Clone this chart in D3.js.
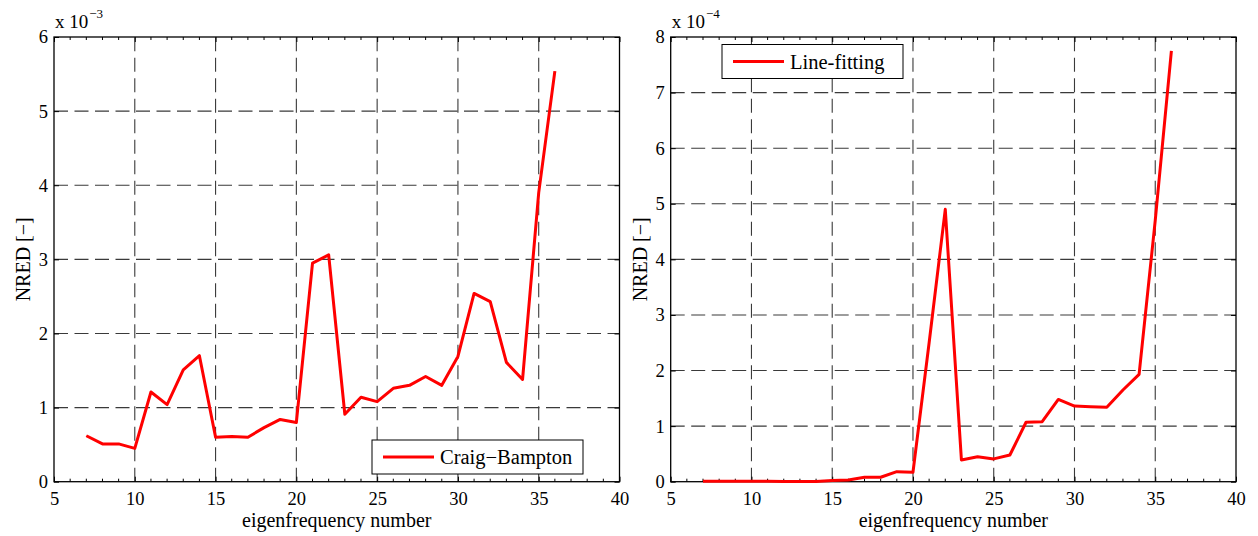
<html>
<script src='https://d3js.org/d3.v7.min.js'></script>
<style>
    body { margin: 0; background: #fff; }
    text { font-family: 'Liberation Serif', 'Times New Roman', serif; fill: #000; }
</style>

<body>
    <svg width=1258 height=536></svg>
    <script>
        // eigenfrequency numbers
        let modes = d3.range(7, 37);
        // Craig-Bampton NRED, x 1e-3
        let craigBampton = [0.62, 0.51, 0.51, 0.45, 1.21, 1.04, 1.51, 1.70, 0.60, 0.61,
            0.60, 0.73, 0.84, 0.80, 2.95, 3.06, 0.91, 1.14, 1.08, 1.26,
            1.30, 1.42, 1.30, 1.69, 2.54, 2.43, 1.61, 1.38, 3.9, 5.54];
        // Line-fitting NRED, x 1e-4
        let lineFitting = [0.01, 0.01, 0.01, 0.01, 0.01, 0.005, 0.005, 0.005, 0.02, 0.03,
            0.08, 0.08, 0.18, 0.17, 2.5, 4.9, 0.39, 0.45, 0.41, 0.48,
            1.07, 1.08, 1.48, 1.36, 1.35, 1.34, 1.65, 1.93, 4.7, 7.75];
        let xTicks = [5, 10, 15, 20, 25, 30, 35, 40];

        let svg = d3.select('svg');

        function panel(opt) {
            let x = d3.scaleLinear().domain([5, 40]).range([opt.left, opt.right]);
            let y = d3.scaleLinear().domain([0, opt.ymax]).range([481.7, 37]);
            let g = svg.append('g');
            let yTicks = d3.range(0, opt.ymax + 1);

            // grid (dashed)
            g.append('g').selectAll('line').data(xTicks.slice(1, -1)).enter().append('line')
                .attr('x1', d => x(d)).attr('x2', d => x(d))
                .attr('y1', y(0)).attr('y2', y(opt.ymax))
                .attr('stroke', '#3a3a3a').attr('stroke-width', 1.1)
                .attr('stroke-dasharray', '14,6.5');
            g.append('g').selectAll('line').data(yTicks.slice(1, -1)).enter().append('line')
                .attr('x1', x(5)).attr('x2', x(40))
                .attr('y1', d => y(d)).attr('y2', d => y(d))
                .attr('stroke', '#3a3a3a').attr('stroke-width', 1.1)
                .attr('stroke-dasharray', '14,6.5');

            // axes, ticks pointing inward
            let bottom = d3.axisBottom(x).tickValues(xTicks).tickFormat(d3.format('d'))
                .tickSizeInner(-5).tickSizeOuter(0).tickPadding(10);
            let gb = g.append('g').attr('transform', `translate(0,${y(0)})`).call(bottom);
            gb.select('.domain').remove();
            gb.selectAll('text').attr('font-size', 18.5);
            let top = d3.axisTop(x).tickValues(xTicks).tickSizeInner(-5).tickSizeOuter(0).tickFormat('');
            g.append('g').attr('transform', `translate(0,${y(opt.ymax)})`).call(top).select('.domain').remove();

            let minor = d3.range(6, 40).filter(d => d % 5 !== 0);
            g.append('g').selectAll('line').data(minor).enter().append('line')
                .attr('x1', d => x(d)).attr('x2', d => x(d))
                .attr('y1', y(0)).attr('y2', y(0) - 3).attr('stroke', '#000');
            g.append('g').selectAll('line').data(minor).enter().append('line')
                .attr('x1', d => x(d)).attr('x2', d => x(d))
                .attr('y1', y(opt.ymax)).attr('y2', y(opt.ymax) + 3).attr('stroke', '#000');

            let left = d3.axisLeft(y).tickValues(yTicks).tickFormat(d3.format('d'))
                .tickSizeInner(-5).tickSizeOuter(0).tickPadding(6);
            let gl = g.append('g').attr('transform', `translate(${x(5)},0)`).call(left);
            gl.select('.domain').remove();
            gl.selectAll('text').attr('font-size', 18.5);
            let right = d3.axisRight(y).tickValues(yTicks).tickSizeInner(-5).tickSizeOuter(0).tickFormat('');
            g.append('g').attr('transform', `translate(${x(40)},0)`).call(right).select('.domain').remove();

            // box
            g.append('rect').attr('x', x(5)).attr('y', y(opt.ymax))
                .attr('width', x(40) - x(5)).attr('height', y(0) - y(opt.ymax))
                .attr('fill', 'none').attr('stroke', '#000').attr('stroke-width', 1.3);

            // data line
            let line = d3.line().x((d, i) => x(modes[i])).y(d => y(d));
            g.append('path').datum(opt.values).attr('d', line)
                .attr('fill', 'none').attr('stroke', '#ff0000').attr('stroke-width', 3)
                .attr('stroke-linejoin', 'round');

            // exponent
            let ex = g.append('text').attr('x', x(5) + 1).attr('y', 28).attr('font-size', 19);
            ex.append('tspan').text('x 10');
            ex.append('tspan').attr('dy', -10).attr('dx', 1).attr('font-size', 13).text(opt.exp);

            // labels
            g.append('text').attr('x', (x(5) + x(40)) / 2).attr('y', 527)
                .attr('text-anchor', 'middle').attr('font-size', 20).text('eigenfrequency number');
            g.append('text').attr('transform', `translate(${x(5) - 24},${(y(0) + y(opt.ymax)) / 2}) rotate(-90)`)
                .attr('text-anchor', 'middle').attr('font-size', 20).text('NRED [\u2212]');

            // legend
            let lg = opt.legend;
            g.append('rect').attr('x', lg.x).attr('y', lg.y).attr('width', lg.w).attr('height', 34)
                .attr('fill', '#fff').attr('stroke', '#000').attr('stroke-width', 1);
            g.append('line').attr('x1', lg.x + 11).attr('x2', lg.x + 62)
                .attr('y1', lg.y + 17).attr('y2', lg.y + 17)
                .attr('stroke', '#ff0000').attr('stroke-width', 3);
            g.append('text').attr('x', lg.x + 68).attr('y', lg.y + 24).attr('font-size', 20.5).text(lg.label);
        }

        panel({ left: 54, right: 619.5, ymax: 6, values: craigBampton, exp: '\u22123',
            legend: { x: 372, y: 440, w: 211, label: 'Craig\u2212Bampton' } });
        panel({ left: 670.7, right: 1236, ymax: 8, values: lineFitting, exp: '\u22124',
            legend: { x: 722, y: 44.5, w: 181, label: 'Line-fitting' } });
    </script>
</body>

</html>
